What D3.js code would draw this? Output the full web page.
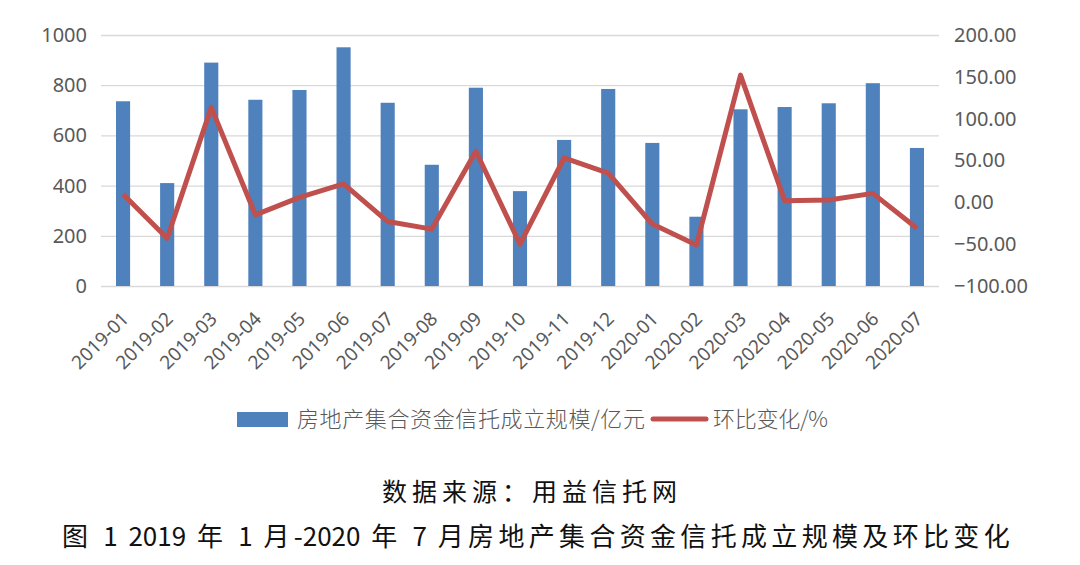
<!DOCTYPE html>
<html>
<head>
<meta charset="utf-8">
<script src="https://cdn.jsdelivr.net/npm/d3@7"></script>
<style>
  body { margin: 0; background: #fff; }
  text { font-family: "Noto Sans", "Noto Sans CJK SC", sans-serif; }
</style>
</head>
<body>
<svg id="chart" width="1080" height="565"></svg>
<script>
// data
const months = ['2019-01', '2019-02', '2019-03', '2019-04', '2019-05', '2019-06', '2019-07', '2019-08',
    '2019-09', '2019-10', '2019-11', '2019-12', '2020-01', '2020-02', '2020-03', '2020-04',
    '2020-05', '2020-06', '2020-07'];
const scale = [736, 410, 890, 742, 781, 951, 730, 483, 790, 378, 582, 785, 570, 276, 704, 713, 728, 808, 550];
const change = [9.6, -43, 113.5, -15, 6, 22, -23, -32, 61, -50, 53, 35, -26, -51, 152, 2, 2.7, 10.7, -31];
const leftTicks = [0, 200, 400, 600, 800, 1000];
const rightTicks = [-100, -50, 0, 50, 100, 150, 200];
const barName = '房地产集合资金信托成立规模/亿元';
const lineName = '环比变化/%';
const sourceText = '数据来源：用益信托网';
const titleText = '图 1 2019 年 1 月-2020 年 7 月房地产集合资金信托成立规模及环比变化';

const margin = { top: 35, left: 101, right: 141, bottom: 279 };
const width = 1080, height = 565;
const innerWidth = width - margin.left - margin.right;
const innerHeight = height - margin.top - margin.bottom;
const labelColor = '#595959';

const svg = d3.select('#chart');
const g = svg.append('g').attr('transform', `translate(${margin.left},${margin.top})`);

const xScale = d3.scaleBand().domain(months).range([0, innerWidth]).paddingInner(0.68).paddingOuter(0.34);
const yLeft = d3.scaleLinear().domain([0, 1000]).range([innerHeight, 0]);
const yRight = d3.scaleLinear().domain([-100, 200]).range([innerHeight, 0]);

// gridlines + left axis
const yAxisL = d3.axisLeft(yLeft).tickValues(leftTicks).tickSize(-innerWidth).tickPadding(14)
    .tickFormat(d3.format('d'));
const yAxisLG = g.append('g').call(yAxisL);
yAxisLG.select('.domain').remove();
yAxisLG.selectAll('line').attr('stroke', '#d9d9d9').attr('stroke-width', 1.3);
yAxisLG.selectAll('text').attr('fill', labelColor).style('font-size', '20px');

const yAxisR = d3.axisRight(yRight).tickValues(rightTicks).tickSize(0).tickPadding(15)
    .tickFormat(d3.format('.2f'));
const yAxisRG = g.append('g').attr('transform', `translate(${innerWidth},0)`).call(yAxisR);
yAxisRG.select('.domain').remove();
yAxisRG.selectAll('text').attr('fill', labelColor).style('font-size', '20px');

// x axis labels, rotated
const xAxis = d3.axisBottom(xScale).tickSize(0).tickPadding(0);
const xAxisG = g.append('g').attr('transform', `translate(0,${innerHeight})`).call(xAxis);
xAxisG.select('.domain').remove();
xAxisG.selectAll('text')
    .attr('fill', labelColor)
    .style('font-size', '19px')
    .attr('text-anchor', 'end')
    .attr('dy', 0)
    .attr('transform', 'translate(7,34) rotate(-45)');

// bars
g.selectAll('.bar').data(scale).enter().append('rect')
    .attr('class', 'bar')
    .attr('x', (d, i) => xScale(months[i]))
    .attr('width', xScale.bandwidth())
    .attr('y', d => yLeft(d))
    .attr('height', d => innerHeight - yLeft(d))
    .attr('fill', '#4f81bd');

// line
const lineGenerator = d3.line()
    .x((d, i) => xScale(months[i]) + xScale.bandwidth() / 2)
    .y(d => yRight(d));
g.append('path')
    .attr('d', lineGenerator(change))
    .attr('fill', 'none')
    .attr('stroke', '#c0504d')
    .attr('stroke-width', 5)
    .attr('stroke-linejoin', 'round');

// legend
const legend = svg.append('g').attr('transform', 'translate(0,419)');
legend.append('rect').attr('x', 237).attr('y', -7).attr('width', 51).attr('height', 15).attr('fill', '#4f81bd');
legend.append('text').attr('x', 297).attr('y', 8).attr('fill', labelColor)
    .style('font-family', '"Noto Sans CJK SC"').style('font-size', '22px').style('font-weight', 300)
    .attr('textLength', 348).text(barName);
legend.append('line').attr('x1', 653).attr('x2', 706).attr('y1', 0).attr('y2', 0)
    .attr('stroke', '#c0504d').attr('stroke-width', 5).attr('stroke-linecap', 'round');
legend.append('text').attr('x', 713).attr('y', 8).attr('fill', labelColor)
    .style('font-family', '"Noto Sans CJK SC"').style('font-size', '22px').style('font-weight', 300)
    .attr('textLength', 115).text(lineName);

// source + caption: CJK characters get extra tracking, digits stay tight
function spacedText(str, x, y, size, targetWidth) {
    const t = svg.append('text').attr('x', x).attr('y', y).attr('fill', '#111')
        .style('font-family', '"Noto Sans CJK SC"').style('font-size', size + 'px')
        .style('word-spacing', '5px');
    const runs = str.match(/[\u3000-\u9fff\uff00-\uffef]+|[^\u3000-\u9fff\uff00-\uffef]+/g);
    const spans = runs.map(r => ({ r: r, cjk: /[\u3000-\u9fff\uff00-\uffef]/.test(r) }));
    t.selectAll('tspan').data(spans).enter().append('tspan').text(d => d.r);
    const natural = t.node().getComputedTextLength();
    const nCjk = spans.filter(d => d.cjk).reduce((s, d) => s + d.r.length, 0);
    const extra = (targetWidth - natural) / nCjk;
    t.selectAll('tspan').filter(d => d.cjk).style('letter-spacing', extra + 'px');
    return t;
}
spacedText(sourceText, 382, 501, 25, 300);
spacedText(titleText, 62, 546, 26, 952);
</script>
</body>
</html>
